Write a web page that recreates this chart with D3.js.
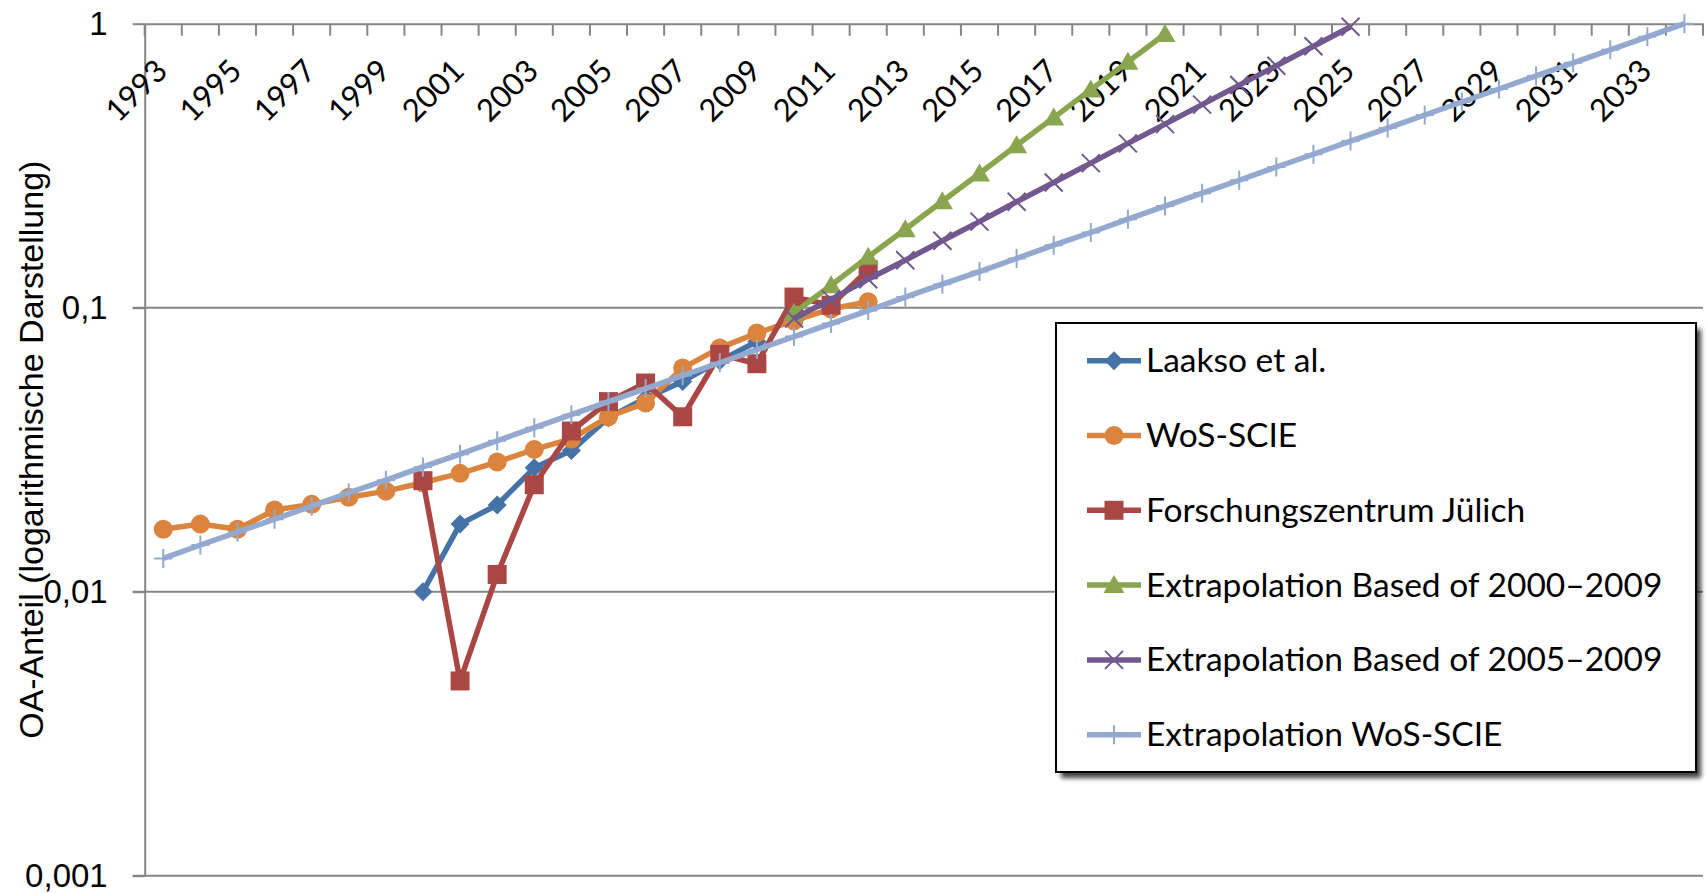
<!DOCTYPE html>
<html>
<head>
<meta charset="utf-8">
<script src="https://cdn.jsdelivr.net/npm/d3@7.9.0/dist/d3.min.js"></script>
<style>
  body { margin: 0; background: #fff; }
  svg { display: block; }
</style>
</head>
<body>
<svg id="chart" width="1706" height="893"></svg>
<script>
// categories (one per year) and axis labels
const years = d3.range(1993, 2035);
const yearLabels = years.filter((yr) => (yr - 1993) % 2 === 0);
const yTicks = [0.001, 0.01, 0.1, 1];
const yTickLabels = ['0,001', '0,01', '0,1', '1'];

// series values
const laaksoStart = 2000;
const laakso = [0.010, 0.0173, 0.0202, 0.0273, 0.0314, 0.041, 0.048, 0.055, 0.065, 0.076];

const wosStart = 1993;
const wos = [0.0166, 0.0173, 0.0166, 0.0194, 0.0203, 0.0215, 0.0226, 0.0242, 0.0261, 0.0286,
  0.0317, 0.0345, 0.0413, 0.0462, 0.0613, 0.0722, 0.0814, 0.090, 0.099, 0.105];

const juelichStart = 2000;
const juelich = [0.0246, 0.00485, 0.0115, 0.0238, 0.0368, 0.0467, 0.0543, 0.0413, 0.0685, 0.0635,
  0.109, 0.102, 0.136];

const extra0009Start = 2010;
const extra0009 = [0.0959, 0.120, 0.151, 0.189, 0.237, 0.297, 0.373, 0.467, 0.586, 0.734, 0.920];

const extra0509Start = 2010;
const extra0509 = [0.0916, 0.107, 0.126, 0.147, 0.172, 0.201, 0.236, 0.276, 0.323, 0.379,
  0.443, 0.519, 0.608, 0.711, 0.833, 0.976];

const extraWosStart = 1993;
const extraWos = [0.0131, 0.0146, 0.0162, 0.0180, 0.0200, 0.0223, 0.0247, 0.0275, 0.0305, 0.0340,
  0.0378, 0.0420, 0.0467, 0.0519, 0.0577, 0.0640, 0.0712, 0.0791, 0.0879, 0.0977,
  0.109, 0.121, 0.134, 0.149, 0.166, 0.184, 0.205, 0.228, 0.253, 0.281,
  0.313, 0.347, 0.386, 0.429, 0.477, 0.530, 0.589, 0.655, 0.728, 0.809,
  0.899, 1.0];

const series = [
  { name: 'Laakso et al.', start: laaksoStart, values: laakso, color: '#4572A7', marker: 'diamond' },
  { name: 'WoS-SCIE', start: wosStart, values: wos, color: '#DB843D', marker: 'circle' },
  { name: 'Forschungszentrum Jülich', start: juelichStart, values: juelich, color: '#AA4643', marker: 'square' },
  { name: 'Extrapolation Based of 2000–2009', start: extra0009Start, values: extra0009, color: '#89A54E', marker: 'triangle' },
  { name: 'Extrapolation Based of 2005–2009', start: extra0509Start, values: extra0509, color: '#71588F', marker: 'x' },
  { name: 'Extrapolation WoS-SCIE', start: extraWosStart, values: extraWos, color: '#93A9CF', marker: 'plus' }
];

const plotLeft = 144.7, plotRight = 1703, plotTop = 23.7, plotBottom = 875.7;
const axisColor = '#868686';

const svg = d3.select('#chart');

const x = d3.scaleBand().domain(years).range([plotLeft, plotRight]).padding(0);
const cx = (yr) => x(yr) + x.bandwidth() / 2;
const y = d3.scaleLog().domain([0.001, 1]).range([plotBottom, plotTop]);

// marker shapes
function markerPath(type) {
  switch (type) {
    case 'diamond': return 'M0,-9.5L9.5,0L0,9.5L-9.5,0Z';
    case 'square': return 'M-9.5,-9.5H9.5V9.5H-9.5Z';
    case 'triangle': return 'M0,-10L10.5,8L-10.5,8Z';
    case 'x': return 'M-9,-9L9,9M-9,9L9,-9';
    case 'plus': return 'M0,-9.5V9.5M-9,0H9';
    default: return d3.symbol(d3.symbolCircle, Math.PI * 9.5 * 9.5)();
  }
}
const stroked = (type) => type === 'x' || type === 'plus';

// gridlines
svg.append('g')
  .selectAll('line')
  .data(yTicks.slice(0, 3))
  .join('line')
  .attr('x1', plotLeft - 12)
  .attr('x2', plotRight)
  .attr('y1', (d) => y(d))
  .attr('y2', (d) => y(d))
  .attr('stroke', axisColor)
  .attr('stroke-width', 2);

// y axis
let yAxis = svg.append('g')
  .attr('transform', `translate(${plotLeft},0)`)
  .call(d3.axisLeft(y).tickValues(yTicks).tickFormat((d, i) => yTickLabels[i])
    .tickSize(12).tickSizeOuter(0).tickPadding(25));
yAxis.selectAll('path, line').attr('stroke', axisColor).attr('stroke-width', 2);
yAxis.selectAll('text')
  .attr('fill', '#000')
  .style('font-family', '"Liberation Sans", Arial, sans-serif')
  .style('font-size', '33px');

// x axis along the top (value 1)
let xAxis = svg.append('g')
  .attr('transform', `translate(0,${plotTop})`)
  .call(d3.axisBottom(x).tickValues(yearLabels).tickSize(0).tickSizeOuter(0));
xAxis.select('.domain').attr('stroke', axisColor).attr('stroke-width', 2);
xAxis.selectAll('text')
  .attr('fill', '#000')
  .attr('x', 0)
  .attr('y', 0)
  .attr('dy', 0)
  .attr('text-anchor', 'end')
  .attr('transform', 'translate(6,49) rotate(-45)')
  .style('font-family', 'Lato, "Open Sans", sans-serif')
  .style('font-size', '31px');

// tick marks between categories
svg.append('g')
  .selectAll('line')
  .data(years.map((yr) => x(yr)).concat([plotRight]))
  .join('line')
  .attr('x1', (d) => d)
  .attr('x2', (d) => d)
  .attr('y1', plotTop)
  .attr('y2', plotTop + 12)
  .attr('stroke', axisColor)
  .attr('stroke-width', 2);

// y axis title
svg.append('text')
  .attr('transform', `translate(43,${(plotTop + plotBottom) / 2}) rotate(-90)`)
  .attr('text-anchor', 'middle')
  .style('font-family', '"Liberation Sans", Arial, sans-serif')
  .style('font-size', '34px')
  .text('OA-Anteil (logarithmische Darstellung)');

// series
let line = d3.line().x((d) => cx(d.year)).y((d) => y(d.value));

series.forEach((s) => {
  let pts = s.values.map((v, i) => ({ year: s.start + i, value: v }));
  let g = svg.append('g');
  g.append('path')
    .attr('d', line(pts))
    .attr('fill', 'none')
    .attr('stroke', s.color)
    .attr('stroke-width', 5.5)
    .attr('stroke-linejoin', 'round');
  g.selectAll('.mk')
    .data(pts)
    .join('path')
    .attr('class', 'mk')
    .attr('transform', (d) => `translate(${cx(d.year)},${y(d.value)})`)
    .attr('d', markerPath(s.marker))
    .attr('fill', stroked(s.marker) ? 'none' : s.color)
    .attr('stroke', stroked(s.marker) ? s.color : 'none')
    .attr('stroke-width', 2);
});

// legend
let defs = svg.append('defs');
defs.append('filter')
  .attr('id', 'shadow')
  .attr('x', '-5%').attr('y', '-5%').attr('width', '115%').attr('height', '115%')
  .append('feGaussianBlur')
  .attr('stdDeviation', 2.5);

let lx = 1056, ly = 323, lw = 640, lh = 449;
let legend = svg.append('g');
legend.append('rect')
  .attr('x', lx + 5).attr('y', ly + 6)
  .attr('width', lw).attr('height', lh)
  .attr('fill', '#000')
  .attr('opacity', 0.75)
  .attr('filter', 'url(#shadow)');
legend.append('rect')
  .attr('x', lx).attr('y', ly)
  .attr('width', lw).attr('height', lh)
  .attr('fill', '#fff')
  .attr('stroke', '#000')
  .attr('stroke-width', 2);

let rowY = d3.scaleLinear().domain([0, 5]).range([360.7, 734.7]);
let items = legend.selectAll('.item')
  .data(series)
  .join('g')
  .attr('class', 'item')
  .attr('transform', (d, i) => `translate(0,${rowY(i)})`);
items.append('line')
  .attr('x1', 1087).attr('x2', 1141)
  .attr('stroke', (d) => d.color)
  .attr('stroke-width', 5.5);
items.append('path')
  .attr('transform', 'translate(1114,0)')
  .attr('d', (d) => markerPath(d.marker))
  .attr('fill', (d) => stroked(d.marker) ? 'none' : d.color)
  .attr('stroke', (d) => stroked(d.marker) ? d.color : 'none')
  .attr('stroke-width', 2);
items.append('text')
  .attr('x', 1146)
  .attr('y', 11.5)
  .style('font-family', 'Lato, "Open Sans", sans-serif')
  .style('font-size', '33.5px')
  .text((d) => d.name);
</script>
</body>
</html>
